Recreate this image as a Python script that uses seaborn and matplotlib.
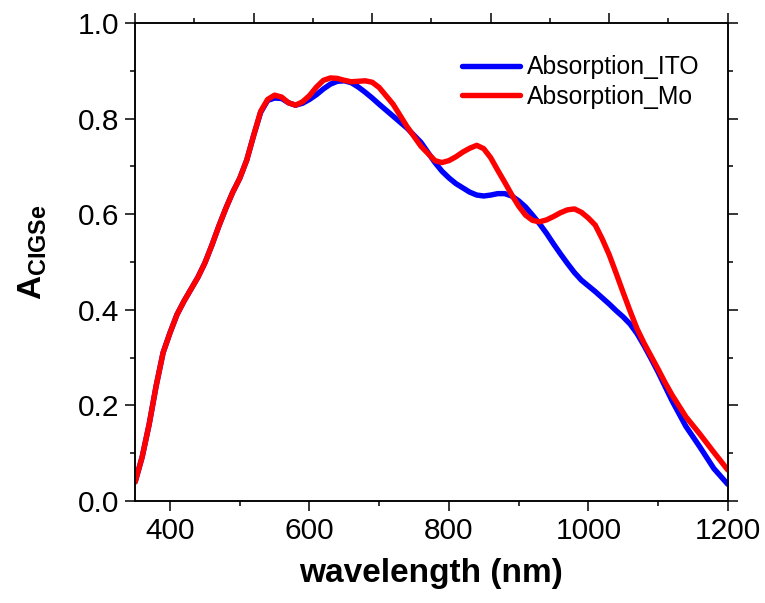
import numpy as np
import pandas as pd
import matplotlib
matplotlib.use("Agg")
import matplotlib.pyplot as plt
import seaborn as sns
from matplotlib.ticker import MultipleLocator, FixedLocator, NullFormatter

wavelength = [350, 360, 370, 380, 390, 400, 410, 420, 430, 440, 450, 460, 470, 480, 490,
              500, 510, 520, 530, 540, 550, 560, 570, 580, 590, 600, 610, 620, 630, 640,
              650, 660, 670, 680, 690, 700, 720, 740, 760, 780, 790, 800, 810, 820, 830,
              840, 850, 860, 870, 880, 890, 900, 910, 920, 930, 940, 950, 960, 970, 980,
              990, 1000, 1010, 1020, 1030, 1040, 1050, 1060, 1070, 1080, 1090, 1100, 1110,
              1120, 1140, 1160, 1180, 1200]

absorption_mo = [0.04, 0.092, 0.16, 0.24, 0.31, 0.352, 0.39, 0.418, 0.443, 0.468, 0.498,
                 0.535, 0.575, 0.612, 0.646, 0.675, 0.713, 0.765, 0.815, 0.840, 0.849, 0.845,
                 0.833, 0.828, 0.835, 0.848, 0.866, 0.880, 0.885, 0.884, 0.880, 0.877, 0.878,
                 0.879, 0.876, 0.865, 0.83, 0.783, 0.742, 0.712, 0.708, 0.712, 0.72, 0.73,
                 0.738, 0.744, 0.737, 0.718, 0.692, 0.667, 0.641, 0.617, 0.598, 0.587, 0.584,
                 0.588, 0.595, 0.603, 0.609, 0.611, 0.604, 0.592, 0.577, 0.548, 0.515, 0.476,
                 0.436, 0.397, 0.36, 0.33, 0.303, 0.276, 0.248, 0.222, 0.176, 0.14, 0.102,
                 0.065]

absorption_ito = [0.04, 0.092, 0.16, 0.24, 0.31, 0.352, 0.39, 0.418, 0.443, 0.468, 0.498,
                  0.535, 0.575, 0.612, 0.646, 0.675, 0.713, 0.765, 0.813, 0.838, 0.843, 0.842,
                  0.833, 0.828, 0.832, 0.840, 0.850, 0.862, 0.872, 0.878, 0.879, 0.875, 0.866,
                  0.855, 0.843, 0.830, 0.805, 0.78, 0.75, 0.708, 0.69, 0.676, 0.664, 0.655,
                  0.646, 0.640, 0.638, 0.640, 0.643, 0.643, 0.638, 0.628, 0.615, 0.598, 0.580,
                  0.56, 0.538, 0.517, 0.497, 0.478, 0.462, 0.45, 0.438, 0.425, 0.412, 0.398,
                  0.385, 0.37, 0.35, 0.325, 0.298, 0.27, 0.24, 0.21, 0.156, 0.113, 0.068,
                  0.035]

series_names = ["Absorption_ITO", "Absorption_Mo"]
series_colors = ["#0000ff", "#ff0000"]

x_ticks = [400, 600, 800, 1000, 1200]
y_ticks = [0.0, 0.2, 0.4, 0.6, 0.8, 1.0]
top_major = [350, 520, 690, 860, 1030, 1200]
top_minor = [435, 605, 775, 945, 1115]

df = pd.concat([
    pd.DataFrame({"wavelength": wavelength, "A": absorption_ito, "series": series_names[0]}),
    pd.DataFrame({"wavelength": wavelength, "A": absorption_mo, "series": series_names[1]}),
])

sns.set_theme(style="ticks")
plt.rcParams["font.family"] = ["Liberation Sans", "DejaVu Sans"]
plt.rcParams["mathtext.fontset"] = "custom"
plt.rcParams["mathtext.rm"] = "Liberation Sans"
plt.rcParams["mathtext.bf"] = "Liberation Sans:bold"
plt.rcParams["axes.linewidth"] = 1.1
plt.rcParams["text.color"] = "black"
plt.rcParams["axes.labelcolor"] = "black"
plt.rcParams["xtick.color"] = "black"
plt.rcParams["ytick.color"] = "black"

fig = plt.figure(figsize=(7.65, 6.03), dpi=100)
ax = fig.add_axes([0.1767, 0.1692, 0.9513 - 0.1767, 0.9619 - 0.1692])

sns.lineplot(data=df, x="wavelength", y="A", hue="series", hue_order=series_names,
             palette=series_colors, linewidth=3.9, sort=False, ax=ax, estimator=None)

ax.set_xlim(350, 1200)
ax.set_ylim(0, 1.0)
ax.set_xticks(x_ticks)
ax.set_yticks(y_ticks)
ax.set_yticklabels([f"{v:.1f}" for v in y_ticks])
ax.xaxis.set_minor_locator(MultipleLocator(100))
ax.yaxis.set_minor_locator(MultipleLocator(0.1))
ax.tick_params(which="major", direction="out", length=7.2, width=1.1, labelsize=21.5,
               colors="black", pad=4)
ax.tick_params(which="minor", direction="out", length=3.6, width=1.1, colors="black")
for s in ax.spines.values():
    s.set_color("black")
    s.set_linewidth(1.1)

ax.tick_params(axis="y", which="both", right=True, labelright=False)

ax_top = ax.twiny()
ax_top.set_xlim(350, 1200)
ax_top.xaxis.set_major_locator(FixedLocator(top_major))
ax_top.xaxis.set_minor_locator(FixedLocator(top_minor))
ax_top.xaxis.set_major_formatter(NullFormatter())
ax_top.tick_params(which="major", direction="out", length=7.2, width=1.1, colors="black")
ax_top.tick_params(which="minor", direction="out", length=3.6, width=1.1, colors="black")
for s in ax_top.spines.values():
    s.set_linewidth(1.1)
    s.set_color("black")

ax.set_xlabel("wavelength (nm)", fontsize=24, fontweight="bold", labelpad=10, color="black")
ax.set_ylabel(r"$\mathbf{A}_{\mathbf{CIGSe}}$", fontsize=24, labelpad=23, color="black")
ax.yaxis.set_label_coords(-0.145, 0.52)

leg = ax.legend(loc="upper left", bbox_to_anchor=(0.5516, 0.932), frameon=False,
                fontsize=17.8, handlelength=2.35, handletextpad=0.29, labelspacing=0.22,
                borderpad=0, borderaxespad=0)
for line in leg.get_lines():
    line.set_linewidth(3.9)
for t in leg.get_texts():
    t.set_color("black")

fig.savefig("out.png", dpi=100)
